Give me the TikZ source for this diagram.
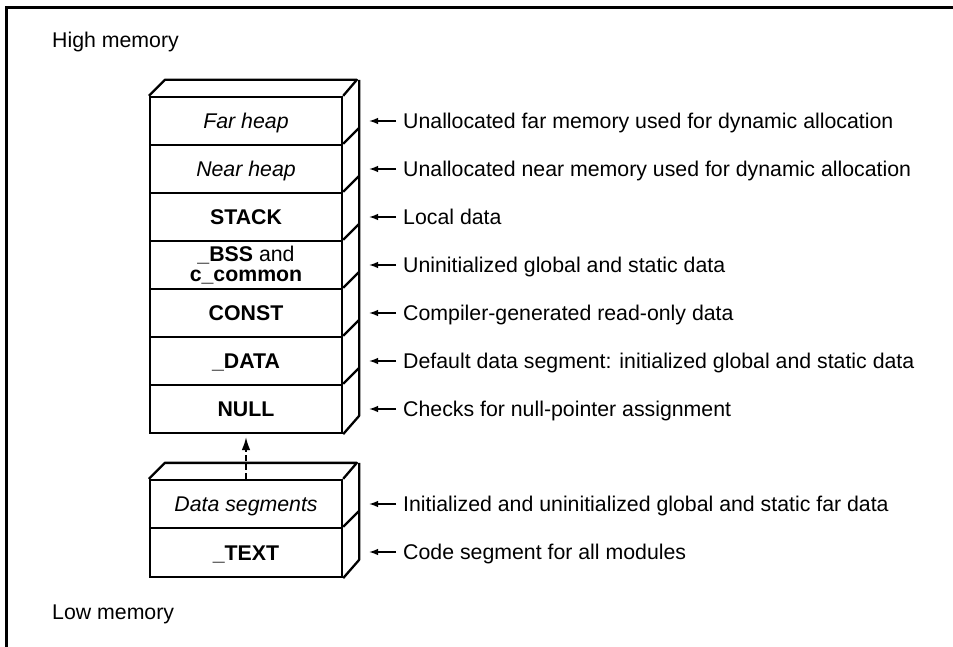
\documentclass[tikz,border=0pt]{standalone}
\usepackage{fontspec}
\setmainfont{Liberation Sans}
\usetikzlibrary{arrows.meta}

\tikzset{
  rowbox/.style={draw, line width=2.3pt, minimum width=192pt, minimum height=48pt,
                 inner sep=0pt, font=\fontsize{21.3}{24}\selectfont},
  capline/.style={text height=15.3pt, text depth=0pt},
  face/.style={line width=2.3pt, line join=round},
  lbl/.style={anchor=west, inner sep=0pt, text height=15.3pt, text depth=0pt,
              font=\fontsize{21.3}{24}\selectfont},
  bssline/.style={anchor=base, inner sep=0pt, font=\fontsize{21.3}{24}\selectfont},
  lblarrow/.style={line width=1.4pt, -{Latex[length=9pt,width=6.5pt]}},
  edge/.style={anchor=base west, inner sep=0pt, font=\fontsize{21.3}{24}\selectfont},
  frame/.style={line width=2.5pt},
  linkarrow/.style={line width=1.8pt, dash pattern=on 6pt off 3pt,
                    -{Latex[length=13pt,width=8.5pt]}}
}

\begin{document}
\begin{tikzpicture}[x=1pt, y=-1pt]
  \useasboundingbox (0,0) rectangle (953,647);

  % outer frame: top and left sides only
  \draw[frame] (6.5,647) -- (6.5,7.5) -- (953,7.5);

  \node[edge] (high) at (52,48) {High memory};
  \node[edge] (low)  at (52,619) {Low memory};

  % upper stack of segments
  \node[rowbox, capline] (far)   at (246,121) {\itshape Far heap};
  \node[rowbox, capline] (near)  at (246,169) {\itshape Near heap};
  \node[rowbox, capline] (stack) at (246,217) {\bfseries STACK};
  \node[rowbox] (bss) at (246,265) {};
  \node[bssline, text depth=2pt] (bss1) at (246,261.5) {\textbf{\_BSS} and};
  \node[bssline, text height=11pt] (bss2) at (246,281) {\textbf{c\_common}};
  \node[rowbox, capline] (const) at (246,313) {\bfseries CONST};
  \node[rowbox, capline] (data)  at (246,361) {\bfseries \_DATA};
  \node[rowbox, capline] (null)  at (246,409) {\bfseries NULL};

  % top face and right side of the upper stack
  \draw[face] (far.north west) -- ++(16,-16) -- ++(192,0) -- (far.north east);
  \draw[face] (far.north east) ++(16,-16) -- ++(0,336) -- (null.south east);
  \foreach \r in {near,stack,bss,const,data,null}
    \draw[face] (\r.north east) -- ++(16,-16);

  % lower stack of segments
  \node[rowbox, capline] (dseg) at (246,504) {\itshape Data segments};
  \node[rowbox, capline, minimum height=49pt] (text) at (246,552.5) {\bfseries \_TEXT};

  \draw[face] (dseg.north west) -- ++(16,-16) -- ++(192,0) -- (dseg.north east);
  \draw[face] (dseg.north east) ++(16,-16) -- ++(0,97) -- (text.south east);
  \draw[face] (text.north east) -- ++(16,-16);

  % the data segments are grouped into the upper stack
  \coordinate (linktip) at (246,437);
  \draw[linkarrow] (dseg.north) -- (linktip);

  % descriptions with pointers
  \foreach \r/\y/\t in {
      far/121/{Unallocated far memory used for dynamic allocation},
      near/169/{Unallocated near memory used for dynamic allocation},
      stack/217/{Local data},
      bss/265/{Uninitialized global and static data},
      const/313/{Compiler-generated read-only data},
      data/361/{Default data segment: initialized global and static data},
      null/409/{Checks for null-pointer assignment},
      dseg/504/{Initialized and uninitialized global and static far data},
      text/552/{Code segment for all modules}} {
    \node[lbl] (d-\r) at (403,\y) {\t};
    \coordinate (p-\r) at (369,\y);
    \draw[lblarrow] ([xshift=-7pt]d-\r.west) -- (p-\r);
  }
\end{tikzpicture}
\end{document}
